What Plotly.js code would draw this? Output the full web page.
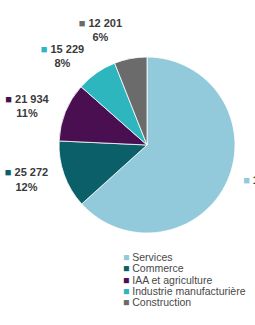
<!DOCTYPE html>
<html><head><meta charset="utf-8">
<script src="https://cdn.plot.ly/plotly-3.0.1.min.js"></script>
<style>html,body{margin:0;padding:0;overflow:hidden;background:#fff}</style>
</head><body>
<div id="chart"></div>
<script>
var categories = ["Services", "Commerce", "IAA et agriculture", "Industrie manufacturière", "Construction"];
var values = [128800, 25272, 21934, 15229, 12201];
var valueLabels = ["128 800", "25 272", "21 934", "15 229", "12 201"];
var percentLabels = ["63%", "12%", "11%", "8%", "6%"];
var colors = ["#92CADB", "#0B5F69", "#4A0F50", "#2DB6BE", "#6B6B6B"];

var W = 300, H = 325;
var cx = 147, cy = 145, R = 88, RL = 98;
function dom(r){ return {x: [(cx - r)/W, (cx + r)/W], y: [1 - (cy + r)/H, 1 - (cy - r)/H]}; }

var texts = categories.map(function(c, i){
  return '<span style="color:' + colors[i] + '">■</span><span style="color:#3a3a3a"> <b>' + valueLabels[i] +
         '</b></span><br><span style="color:#3a3a3a"><b>' + percentLabels[i] + '</b></span>';
});

var labelTrace = {
  type: 'pie',
  labels: categories,
  values: values,
  text: texts,
  textinfo: 'text',
  textposition: 'outside',
  sort: false,
  direction: 'clockwise',
  rotation: 0,
  marker: {colors: categories.map(function(){ return 'rgba(0,0,0,0)'; }), line: {width: 0}},
  outsidetextfont: {family: 'Liberation Sans, Arial, sans-serif', size: 11, color: '#ffffff'},
  domain: dom(RL),
  hoverinfo: 'none',
  showlegend: false
};

var pieTrace = {
  type: 'pie',
  labels: categories,
  values: values,
  textinfo: 'none',
  sort: false,
  direction: 'clockwise',
  rotation: 0,
  marker: {colors: colors, line: {color: '#ffffff', width: 0.8}},
  domain: dom(R),
  hoverinfo: 'none',
  showlegend: false
};

var annotations = categories.map(function(c, i){
  return {
    xref: 'paper', yref: 'paper',
    x: 121/W, y: 1 - (257 + i*11.3)/H,
    xanchor: 'left', yanchor: 'middle',
    showarrow: false,
    text: '<span style="color:' + colors[i] + '">■</span> ' + c,
    font: {family: 'Liberation Sans, Arial, sans-serif', size: 10.5, color: '#484848'}
  };
});

var layout = {
  width: W, height: H,
  margin: {l: 0, r: 0, t: 0, b: 0},
  showlegend: false,
  paper_bgcolor: '#ffffff',
  annotations: annotations
};
Plotly.newPlot('chart', [labelTrace, pieTrace], layout, {displayModeBar: false, staticPlot: true});
</script>
</body></html>
